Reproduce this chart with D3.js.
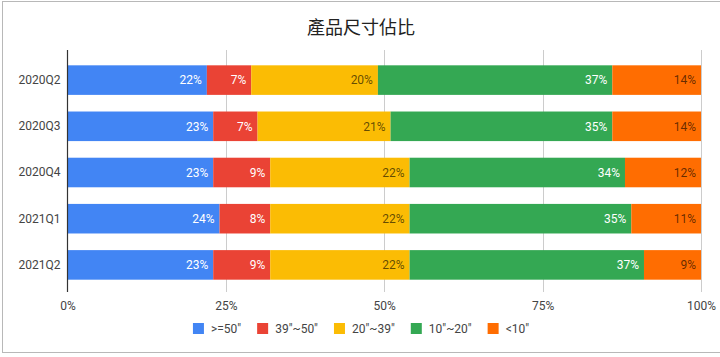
<!DOCTYPE html>
<html><head><meta charset="utf-8">
<script src="https://cdn.jsdelivr.net/npm/d3@7"></script>
<style>
html,body{margin:0;padding:0;background:#fff;}
svg{display:block;}
</style>
</head><body>
<svg id="chart" width="720" height="357"></svg>
<script>
const categories = ["2020Q2","2020Q3","2020Q4","2021Q1","2021Q2"];
const seriesNames = ['>=50"', '39"~50"', '20"~39"', '10"~20"', '<10"'];
const s50plus = [22, 23, 23, 24, 23];
const s39to50 = [7, 7, 9, 8, 9];
const s20to39 = [20, 21, 22, 22, 22];
const s10to20 = [37, 35, 34, 35, 37];
const sUnder10 = [14, 14, 12, 11, 9];
const xTicks = [0, 0.25, 0.5, 0.75, 1];
const title = "產品尺寸佔比";

const colors = ["#4285f4", "#ea4335", "#fbbc04", "#34a853", "#ff6d01"];
const labelColors = ["#ffffff", "#ffffff", "rgba(0,0,0,0.62)", "#ffffff", "rgba(0,0,0,0.62)"];
const seriesValues = [s50plus, s39to50, s20to39, s10to20, sUnder10];

const rows = categories.map((c, i) => {
  const r = {cat: c};
  seriesNames.forEach((n, j) => r[n] = seriesValues[j][i]);
  return r;
});
const stack = d3.stack().keys(seriesNames).offset(d3.stackOffsetExpand)(rows);

const svg = d3.select("#chart");
const font = "Roboto, Arial, sans-serif";

// frame
svg.append("rect").attr("x", 2.5).attr("y", 1.5).attr("width", 740).attr("height", 351)
  .attr("fill", "#fff").attr("stroke", "#b8b8b8").attr("stroke-width", 1);

const x = d3.scaleLinear().domain([0, 1]).range([67.5, 701]);
const y = d3.scaleBand().domain(categories).range([57, 288]).paddingInner(0.36).paddingOuter(0.18);

// title
svg.append("text").attr("x", 361).attr("y", 34).attr("text-anchor", "middle")
  .attr("font-family", "'Noto Sans CJK TC', 'Noto Sans CJK SC', sans-serif")
  .attr("font-size", 18).attr("fill", "#222").text(title);

// gridlines
svg.append("g").selectAll("line").data(xTicks.slice(1)).join("line")
  .attr("x1", d => Math.round(x(d)) + 0.5).attr("x2", d => Math.round(x(d)) + 0.5)
  .attr("y1", 50).attr("y2", 292).attr("stroke", "#cccccc");

// bars
const g = svg.append("g");
stack.forEach((layer, k) => {
  g.append("g").attr("fill", colors[k]).selectAll("rect").data(layer).join("rect")
    .attr("x", d => x(d[0])).attr("width", d => x(d[1]) - x(d[0]))
    .attr("y", d => y(d.data.cat)).attr("height", y.bandwidth());
  g.append("g").selectAll("text").data(layer).join("text")
    .attr("x", d => x(d[1]) - 5)
    .attr("y", d => y(d.data.cat) + y.bandwidth() / 2)
    .attr("dy", "0.35em").attr("text-anchor", "end")
    .attr("font-family", font).attr("font-size", 12).attr("font-weight", 400)
    .attr("fill", labelColors[k])
    .text(d => d.data[seriesNames[k]] + "%");
});

// zero axis
svg.append("line").attr("x1", 67.5).attr("x2", 67.5).attr("y1", 50).attr("y2", 292)
  .attr("stroke", "#333").attr("stroke-width", 1.2);

// y axis labels
const yAxis = d3.axisLeft(y).tickSize(0).tickPadding(7);
const ya = svg.append("g").attr("transform", "translate(67.5,0)").call(yAxis);
ya.select(".domain").remove();
ya.selectAll("text").attr("font-family", font).attr("font-size", 12).attr("fill", "#444");

// x axis labels
const xAxis = d3.axisBottom(x).tickValues(xTicks).tickFormat(d3.format(".0%")).tickSize(0).tickPadding(0);
const xa = svg.append("g").attr("transform", "translate(0,301)").call(xAxis);
xa.select(".domain").remove();
xa.selectAll("text").attr("font-family", font).attr("font-size", 12).attr("fill", "#444");

// legend
const lg = svg.append("g");
const items = lg.selectAll("g").data(seriesNames).join("g");
items.append("rect").attr("width", 11).attr("height", 11).attr("y", -6)
  .attr("fill", (d, i) => colors[i]);
items.append("text").attr("x", 18).attr("dy", "0.35em")
  .attr("font-family", font).attr("font-size", 12).attr("fill", "#444").text(d => d);
let cx = 0;
items.each(function() {
  const w = this.querySelector("text").getComputedTextLength();
  d3.select(this).attr("transform", `translate(${cx},0)`);
  cx += 18 + w + 16;
});
const total = cx - 16;
lg.attr("transform", `translate(${361 - total / 2},329)`);
</script>
</body></html>
